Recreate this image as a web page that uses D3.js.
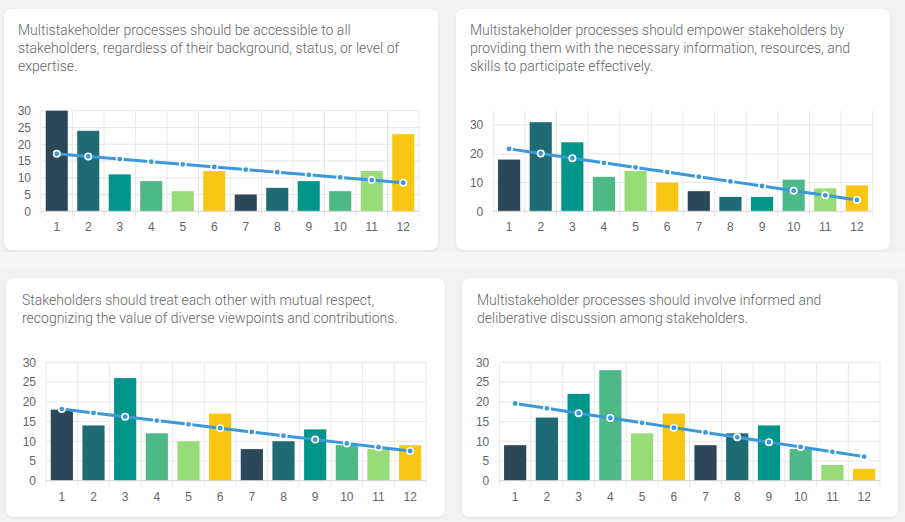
<!DOCTYPE html>
<html>
<head>
<meta charset="utf-8">
<script src="https://cdn.jsdelivr.net/npm/d3@7"></script>
<style>
  html, body { margin: 0; padding: 0; background: #f2f2f2; }
  svg { display: block; }
</style>
</head>
<body>
<div id="chart"></div>
<script>
// categories / tick labels
const categories = ["1", "2", "3", "4", "5", "6", "7", "8", "9", "10", "11", "12"]

// bar values per panel
const accessible = [30, 24, 11, 9, 6, 12, 5, 7, 9, 6, 12, 23]
const empower = [18, 31, 24, 12, 14, 10, 7, 5, 5, 11, 8, 9]
const respect = [18, 14, 26, 12, 10, 17, 8, 10, 13, 9, 8, 9]
const deliberative = [9, 16, 22, 28, 12, 17, 9, 12, 14, 8, 4, 3]

const titleAccessible = ["Multistakeholder processes should be accessible to all",
  "stakeholders, regardless of their background, status, or level of",
  "expertise."]
const titleEmpower = ["Multistakeholder processes should empower stakeholders by",
  "providing them with the necessary information, resources, and",
  "skills to participate effectively."]
const titleRespect = ["Stakeholders should treat each other with mutual respect,",
  "recognizing the value of diverse viewpoints and contributions."]
const titleDeliberative = ["Multistakeholder processes should involve informed and",
  "deliberative discussion among stakeholders."]

const yTicksA = [0, 5, 10, 15, 20, 25, 30]
const yTicksB = [0, 10, 20, 30]

const barColors = ["#2c4757", "#1e6b76", "#00958a", "#4cb986", "#97dc76", "#f9c613"]
const lineColor = "#3b98d9"

const width = 905
const height = 522

const svg = d3.select("#chart").append("svg")
  .attr("width", width)
  .attr("height", height)

svg.append("defs").append("filter")
  .attr("id", "shadow").attr("x", "-5%").attr("y", "-5%").attr("width", "110%").attr("height", "115%")
  .append("feDropShadow")
  .attr("dx", 0).attr("dy", 1).attr("stdDeviation", 1.5)
  .attr("flood-color", "#000").attr("flood-opacity", 0.08)

// lighter band between the two rows
svg.append("rect").attr("x", 0).attr("y", 252).attr("width", width).attr("height", 16).attr("fill", "#f7f7f7")

// layout of the four cards (card box + plot box)
const panels = [
  { values: accessible, title: titleAccessible, ticks: yTicksA, yMax: 30,
    card: [4, 9, 434, 241], text: [18, 35], plot: [41, 110.7, 419, 211.3], labelY: 231 },
  { values: empower, title: titleEmpower, ticks: yTicksB, yMax: 35,
    card: [456, 9, 434, 241], text: [470, 35], plot: [493.3, 110.7, 872.7, 211.3], labelY: 231 },
  { values: respect, title: titleRespect, ticks: yTicksA, yMax: 30,
    card: [6, 278, 439, 239], text: [22, 305], plot: [46, 362.3, 426, 480.7], labelY: 501 },
  { values: deliberative, title: titleDeliberative, ticks: yTicksA, yMax: 30,
    card: [462, 278, 436, 239], text: [477, 305], plot: [499.3, 362.3, 880, 480.7], labelY: 501 }
]

// least squares trend through the bars
function trend(values) {
  const xs = values.map((v, i) => i + 1)
  const mx = d3.mean(xs), my = d3.mean(values)
  const sxy = d3.sum(values, (v, i) => (xs[i] - mx) * (v - my))
  const sxx = d3.sum(xs, x => (x - mx) * (x - mx))
  const b = sxy / sxx
  return xs.map(x => my + b * (x - mx))
}

panels.forEach(p => {
  const [cx, cy, cw, ch] = p.card
  svg.append("rect")
    .attr("x", cx).attr("y", cy).attr("width", cw).attr("height", ch)
    .attr("rx", 8).attr("fill", "#fff")
    .attr("filter", "url(#shadow)")

  const t = svg.append("text")
    .attr("x", p.text[0]).attr("y", p.text[1])
    .attr("font-family", "Roboto, sans-serif")
    .attr("font-weight", 300)
    .attr("font-size", 14)
    .attr("fill", "#666")
  p.title.forEach((line, i) => {
    t.append("tspan").attr("x", p.text[0]).attr("dy", i === 0 ? 0 : 18).text(line)
  })

  const [x0, y0, x1, y1] = p.plot
  const x = d3.scaleBand().domain(categories).range([x0, x1]).paddingInner(0.3).paddingOuter(0.15)
  const xBand = d3.scaleBand().domain(categories).range([x0, x1])
  const y = d3.scaleLinear().domain([0, p.yMax]).range([y1, y0])

  const g = svg.append("g")

  // vertical grid at category boundaries (extends below as ticks)
  const bounds = categories.map(c => xBand(c)).concat([x1])
  g.selectAll(".vg").data(bounds).join("line")
    .attr("x1", d => d).attr("x2", d => d)
    .attr("y1", y0).attr("y2", y1 + 6)
    .attr("stroke", "#e8e8e8").attr("stroke-width", 1)

  // horizontal grid
  g.selectAll(".hg").data(p.ticks.filter(d => d > 0)).join("line")
    .attr("x1", x0).attr("x2", x1)
    .attr("y1", d => y(d)).attr("y2", d => y(d))
    .attr("stroke", "#e8e8e8").attr("stroke-width", 1)

  // y axis labels
  const yAxis = d3.axisLeft(y).tickValues(p.ticks).tickSize(0).tickPadding(10)
  const ya = g.append("g").attr("transform", "translate(" + x0 + ",0)").call(yAxis)
  ya.select(".domain").remove()
  ya.selectAll("text").attr("font-family", "'Liberation Sans', Arial, sans-serif")
    .attr("font-size", 12).attr("fill", "#666")

  // bars
  g.selectAll(".bar").data(p.values).join("rect")
    .attr("x", (d, i) => x(categories[i]))
    .attr("width", x.bandwidth())
    .attr("y", d => y(d))
    .attr("height", d => y(0) - y(d))
    .attr("fill", (d, i) => barColors[i % barColors.length])

  // x axis line
  g.append("line").attr("x1", x0).attr("x2", x1).attr("y1", y1).attr("y2", y1)
    .attr("stroke", "#d6d6d6").attr("stroke-width", 1)

  // x labels
  g.selectAll(".xl").data(categories).join("text")
    .attr("x", d => xBand(d) + xBand.bandwidth() / 2)
    .attr("y", p.labelY)
    .attr("text-anchor", "middle")
    .attr("font-family", "'Liberation Sans', Arial, sans-serif")
    .attr("font-size", 12).attr("fill", "#666")
    .text(d => d)

  // trend line
  const tv = trend(p.values)
  const line = d3.line()
    .x((d, i) => xBand(categories[i]) + xBand.bandwidth() / 2)
    .y(d => y(d))
  g.append("path").datum(tv)
    .attr("d", line)
    .attr("fill", "none")
    .attr("stroke", lineColor)
    .attr("stroke-width", 3)
  g.selectAll(".pt").data(tv).join("circle")
    .attr("cx", (d, i) => xBand(categories[i]) + xBand.bandwidth() / 2)
    .attr("cy", d => y(d))
    .attr("r", 3.2)
    .attr("fill", lineColor)
    .attr("stroke", "#fff")
    .attr("stroke-width", 1.6)
})
</script>
</body>
</html>
